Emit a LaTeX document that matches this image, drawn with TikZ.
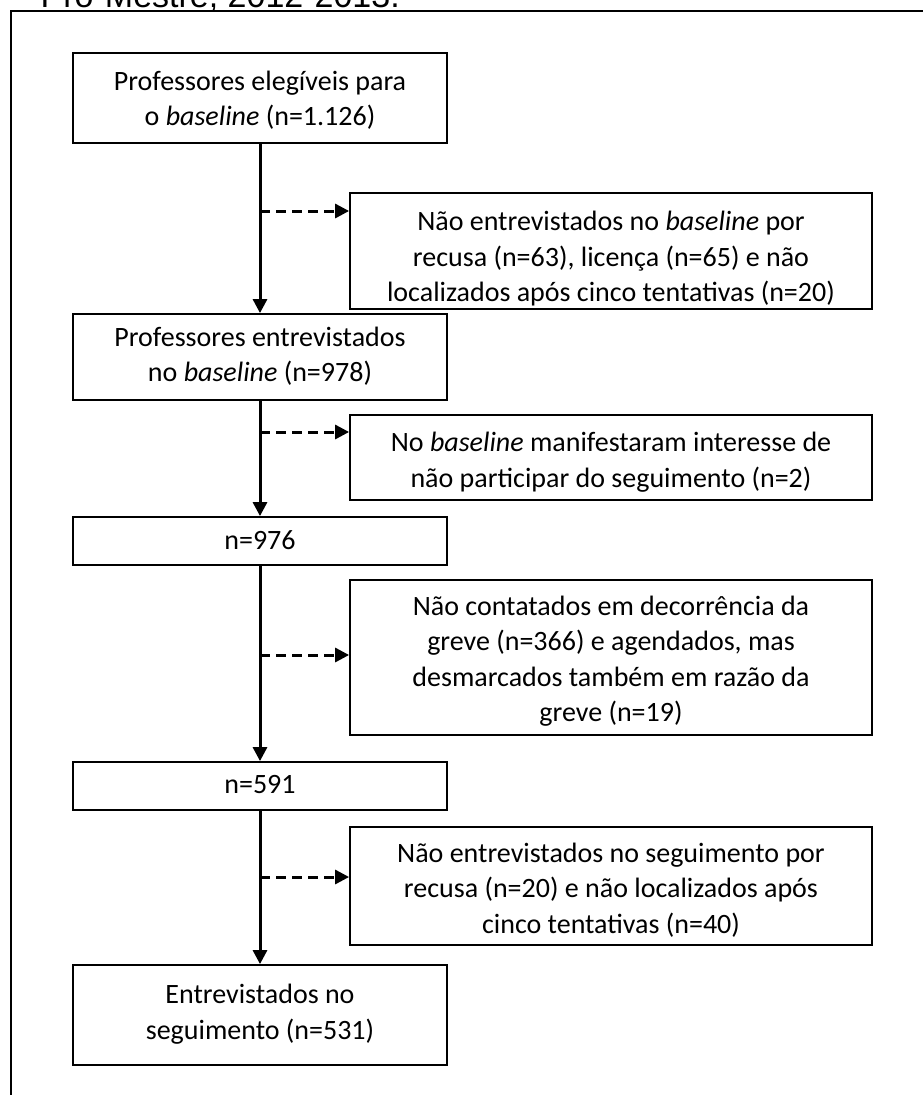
\documentclass[tikz,border=0pt]{standalone}
\usepackage{fontspec}
\setmainfont{Carlito}
\newfontfamily\titlefont{Liberation Sans}
\usetikzlibrary{arrows.meta}
\begin{document}
\begin{tikzpicture}[x=1pt,y=-1pt,
  box/.style={draw,line width=1.8pt,inner sep=0pt},
  lbl/.style={align=center,inner sep=0pt,font=\fontsize{28}{35.5}\selectfont},
  flow/.style={line width=3pt,-{Triangle[length=14pt,width=14pt]}},
  side/.style={line width=3pt,dash pattern=on 10pt off 6pt,-{Triangle[length=14pt,width=14pt]}},
  frameline/.style={line width=2.4pt}]
\useasboundingbox (0,0) rectangle (923,1095);
\fill[white] (0,0) rectangle (923,1095);
\node[anchor=base east,inner sep=0pt,font=\titlefont\fontsize{34}{34}\selectfont] (title) at (400,7) {Pró-Mestre, 2012-2013.};
\draw[frameline] (923,11) -- (11,11) -- (11,1095);

% boxes: left column x 73--447, right column x 350--872
\node[box,minimum width=374pt,minimum height=90pt]  (b1) at (260,98) {};
\node[box,minimum width=522pt,minimum height=116pt] (b2) at (611,251) {};
\node[box,minimum width=374pt,minimum height=86pt]  (b3) at (260,357) {};
\node[box,minimum width=522pt,minimum height=85pt]  (b4) at (611,457.5) {};
\node[box,minimum width=374pt,minimum height=48pt]  (b5) at (260,541) {};
\node[box,minimum width=522pt,minimum height=155pt] (b6) at (611,657.5) {};
\node[box,minimum width=374pt,minimum height=48pt]  (b7) at (260,786) {};
\node[box,minimum width=522pt,minimum height=118pt] (b8) at (611,886) {};
\node[box,minimum width=374pt,minimum height=100pt] (b9) at (260,1015) {};

\node[lbl] (t1) at (260,100) {Professores elegíveis para\\o \textit{baseline} (n=1.126)};
\node[lbl] (t2) at (611,259) {Não entrevistados no \textit{baseline} por\\recusa (n=63), licença (n=65) e não\\localizados após cinco tentativas (n=20)};
\node[lbl] (t3) at (260,356) {Professores entrevistados\\no \textit{baseline} (n=978)};
\node[lbl] (t4) at (611,462) {No \textit{baseline} manifestaram interesse de\\não participar do seguimento (n=2)};
\node[lbl] (t5) at (260,540) {n=976};
\node[lbl] (t6) at (611,661) {Não contatados em decorrência da\\greve (n=366) e agendados, mas\\desmarcados também em razão da\\greve (n=19)};
\node[lbl] (t7) at (260,785) {n=591};
\node[lbl] (t8) at (611,890) {Não entrevistados no seguimento por\\recusa (n=20) e não localizados após\\cinco tentativas (n=40)};
\node[lbl] (t9) at (260,1014) {Entrevistados no\\seguimento (n=531)};

\draw[flow] (b1) -- (b3);
\draw[flow] (b3) -- (b5);
\draw[flow] (b5) -- (b7);
\draw[flow] (b7) -- (b9);

\coordinate (s1) at (260,211);
\coordinate (s2) at (260,432);
\coordinate (s3) at (260,655);
\coordinate (s4) at (260,877);
\draw[side] (s1) -- (s1 -| b2.west);
\draw[side] (s2) -- (s2 -| b4.west);
\draw[side] (s3) -- (s3 -| b6.west);
\draw[side] (s4) -- (s4 -| b8.west);
\end{tikzpicture}
\end{document}
